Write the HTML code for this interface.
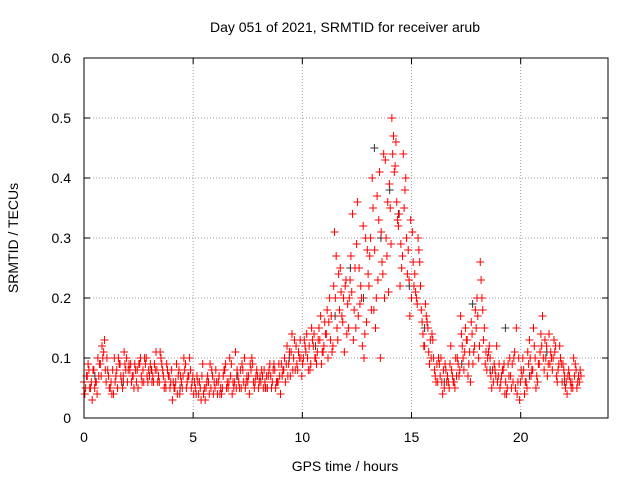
<!DOCTYPE html>
<html>
<head>
<meta charset="utf-8">
<style>
  html, body { margin: 0; padding: 0; background: #fff; }
  svg { display: block; font-family: "Liberation Sans", sans-serif; }
</style>
</head>
<body>
<svg id="chart" width="640" height="480" xmlns="http://www.w3.org/2000/svg">
  <rect x="0" y="0" width="640" height="480" fill="#fff"/>
  <text x="345" y="32" font-size="14" text-anchor="middle" fill="#000">Day 051 of 2021, SRMTID for receiver arub</text>
  <text x="345" y="471" font-size="14" text-anchor="middle" fill="#000">GPS time / hours</text>
  <text x="0" y="0" font-size="14" text-anchor="middle" fill="#000" transform="translate(18,238) rotate(-90)">SRMTID / TECUs</text>
  <g id="grid"></g>
  <g id="ticks"></g>
  <g id="marks"></g>
  <rect x="84" y="58" width="524" height="360" fill="none" stroke="#000" stroke-width="1"/>
</svg>
<script>
const xTickValues = [0, 5, 10, 15, 20];
const yTickValues = [0, 0.1, 0.2, 0.3, 0.4, 0.5, 0.6];
const yTickLabels = ["0", "0.1", "0.2", "0.3", "0.4", "0.5", "0.6"];
const sampleInterval = 0.15;
const seriesA = [
  .06,.07,.05,.08,.04,.09,.11,
  .1,.05,.04,.08,.09,.07,.1,
  .08,.07,.06,.09,.08,.1,.07,
  .07,.11,.06,.08,.05,.07,
  .03,.06,.08,.05,.09,.07,.06,
  .05,.04,.07,.03,.06,.08,.05,
  .06,.04,.08,.05,.09,.06,
  .07,.05,.1,.06,.08,.05,.07,
  .06,.08,.05,.07,.09,.06,.04,
  .08,.12,.07,.1,.09,.13,
  .1,.14,.08,.12,.09,.13,.11,
  .14,.2,.12,.27,.18,.16,.23,
  .2,.34,.15,.25,.12,.3,
  .22,.4,.15,.33,.26,.43,.21,
  .5,.42,.32,.25,.38,.28,.2,
  .24,.3,.18,.12,.15,.1,
  .08,.06,.1,.05,.07,.12,.06,
  .1,.17,.08,.13,.06,.11,.2,
  .26,.13,.08,.1,.06,.12,
  .05,.08,.04,.1,.06,.15,.03,
  .1,.06,.13,.08,.05,.09,.17,
  .1,.14,.08,.12,.09,.06,
  .05,.08,.06,.09,.07
];
const seriesB = [
  .05,.08,.03,.06,.07,.12,.08,
  .07,.04,.06,.1,.06,.09,.08,
  .06,.09,.05,.07,.1,.06,.08,
  .09,.06,.1,.05,.08,.06,
  .05,.04,.07,.1,.06,.08,.04,
  .07,.05,.04,.06,.09,.04,.06,
  .04,.07,.05,.1,.06,.05,
  .05,.08,.06,.04,.09,.07,.06,
  .07,.05,.08,.06,.05,.09,.07,
  .06,.09,.14,.08,.11,.07,
  .12,.08,.15,.1,.13,.09,.16,
  .1,.17,.31,.13,.21,.11,.19,
  .27,.18,.36,.22,.1,.28,
  .3,.18,.37,.1,.44,.27,.35,
  .47,.36,.22,.44,.3,.17,.26,
  .2,.26,.14,.17,.09,.13,
  .06,.09,.04,.08,.05,.07,.1,
  .07,.12,.15,.09,.14,.18,.1,
  .2,.09,.11,.05,.08,.07,
  .07,.04,.09,.05,.11,.06,.08,
  .04,.11,.07,.12,.06,.14,.08,
  .07,.11,.13,.06,.1,.08,
  .04,.06,.1,.05,.08
];
const seriesC = [
  .04,.09,.06,.05,.1,.07,.13,
  .08,.06,.1,.05,.07,.11,.06,
  .09,.05,.08,.1,.06,.07,.09,
  .06,.08,.11,.07,.09,.05,
  .06,.09,.04,.07,.05,.1,.07,
  .04,.06,.09,.05,.04,.07,.08,
  .07,.05,.09,.06,.04,.11,
  .06,.09,.05,.07,.1,.06,.05,
  .08,.06,.07,.05,.08,.06,.09,
  .1,.07,.11,.13,.08,.1,
  .13,.1,.09,.14,.11,.17,.12,
  .18,.13,.22,.15,.25,.2,.14,
  .23,.13,.29,.19,.32,.16,
  .27,.35,.2,.41,.24,.3,.39,
  .44,.46,.34,.27,.4,.23,.31,
  .21,.28,.16,.19,.11,.14,
  .07,.1,.06,.09,.06,.08,.05,
  .09,.14,.11,.07,.16,.12,.17,
  .23,.15,.1,.07,.09,.06,
  .06,.09,.05,.07,.1,.04,.06,
  .08,.05,.1,.15,.07,.11,.1,
  .12,.09,.1,.07,.12,.09,
  .06,.07,.05,.08,.06
];
const seriesD = [
  .07,.05,.08,.06,.09,.1,.06,
  .05,.08,.07,.09,.05,.08,.09,
  .07,.08,.09,.06,.09,.08,.06,
  .08,.07,.09,.06,.07,.08,
  .05,.07,.06,.08,.07,.05,.06,
  .06,.03,.05,.07,.05,.06,.04,
  .05,.08,.06,.07,.05,.08,
  .08,.06,.07,.09,.06,.08,.07,
  .05,.07,.09,.08,.06,.07,.08,
  .09,.11,.08,.12,.1,.09,
  .11,.12,.13,.1,.15,.11,.14,
  .16,.11,.2,.24,.17,.22,.15,
  .21,.25,.17,.2,.14,.24,
  .18,.28,.23,.31,.2,.36,.29,
  .41,.33,.29,.35,.24,.33,.22,
  .19,.22,.12,.16,.13,.1,
  .09,.07,.08,.06,.09,.06,.07,
  .08,.1,.13,.11,.09,.15,.12,
  .18,.11,.12,.08,.07,.09,
  .08,.06,.07,.09,.05,.1,.07,
  .06,.09,.08,.1,.09,.12,.13,
  .09,.1,.11,.08,.09,.07,
  .07,.05,.07,.06,.07
];
const blackTimes = [0.5,1.8,3.1,4.4,5.7,7.0,8.3,9.4,10.6,11.5,12.2,12.8,13.3,13.6,14.0,14.4,14.9,15.6,16.5,17.3,17.8,18.6,19.3,20.4,21.2,22.0];
const blackValues = [0.07,0.06,0.08,0.05,0.06,0.07,0.05,0.1,0.12,0.17,0.25,0.2,0.45,0.3,0.38,0.34,0.22,0.15,0.06,0.09,0.19,0.08,0.15,0.07,0.11,0.06];

const X0 = 84, X1 = 608, Y0 = 418, Y1 = 58;
const XMAX = 24, YMAX = 0.6;
function xScale(v) { return X0 + v / XMAX * (X1 - X0); }
function yScale(v) { return Y0 - v / YMAX * (Y0 - Y1); }
const NS = "http://www.w3.org/2000/svg";
const grid = document.getElementById("grid");
const ticks = document.getElementById("ticks");
const marks = document.getElementById("marks");

xTickValues.forEach(function (v) {
  const x = xScale(v);
  if (v > 0) {
    const g = document.createElementNS(NS, "line");
    g.setAttribute("x1", x); g.setAttribute("x2", x);
    g.setAttribute("y1", Y1); g.setAttribute("y2", Y0);
    g.setAttribute("stroke", "#a0a0a0"); g.setAttribute("stroke-dasharray", "1,2");
    
    
    grid.appendChild(g);
  }
  [[Y0, Y0 - 6], [Y1, Y1 + 6]].forEach(function (p) {
    const t = document.createElementNS(NS, "line");
    t.setAttribute("x1", x); t.setAttribute("x2", x);
    t.setAttribute("y1", p[0]); t.setAttribute("y2", p[1]);
    t.setAttribute("stroke", "#000");
    
    
    ticks.appendChild(t);
  });
  const lab = document.createElementNS(NS, "text");
  lab.setAttribute("x", x); lab.setAttribute("y", Y0 + 24);
  lab.setAttribute("font-size", "14"); lab.setAttribute("text-anchor", "middle");
  lab.textContent = String(v);
  
  
  ticks.appendChild(lab);
});

yTickValues.forEach(function (v, i) {
  const y = yScale(v);
  if (v > 0 && v < YMAX) {
    const g = document.createElementNS(NS, "line");
    g.setAttribute("x1", X0); g.setAttribute("x2", X1);
    g.setAttribute("y1", y); g.setAttribute("y2", y);
    g.setAttribute("stroke", "#a0a0a0"); g.setAttribute("stroke-dasharray", "1,2");
    
    
    grid.appendChild(g);
  }
  [[X0, X0 + 6], [X1, X1 - 6]].forEach(function (p) {
    const t = document.createElementNS(NS, "line");
    t.setAttribute("x1", p[0]); t.setAttribute("x2", p[1]);
    t.setAttribute("y1", y); t.setAttribute("y2", y);
    t.setAttribute("stroke", "#000");
    
    
    ticks.appendChild(t);
  });
  const lab = document.createElementNS(NS, "text");
  lab.setAttribute("x", X0 - 13); lab.setAttribute("y", y + 5);
  lab.setAttribute("font-size", "14"); lab.setAttribute("text-anchor", "end");
  lab.textContent = yTickLabels[i];
  
  
  ticks.appendChild(lab);
});

function plus(t, v, color, name) {
  const x = xScale(t), y = yScale(v);
  const p = document.createElementNS(NS, "path");
  p.setAttribute("d", "M" + (x - 4) + " " + y + "H" + (x + 4) + "M" + x + " " + (y - 4) + "V" + (y + 4));
  p.setAttribute("stroke", color); p.setAttribute("stroke-width", "1");
  
  
  marks.appendChild(p);
}
blackValues.forEach(function (v, i) { plus(blackTimes[i], v, "#333", "black-point"); });
seriesA.forEach(function (v, i) { plus(i * sampleInterval, v, "#ff0000", "red-point"); });
seriesC.forEach(function (v, i) { plus(i * sampleInterval + sampleInterval * 0.25, v, "#ff0000", "red-point"); });
seriesB.forEach(function (v, i) { plus(i * sampleInterval + sampleInterval * 0.5, v, "#ff0000", "red-point"); });
seriesD.forEach(function (v, i) { plus(i * sampleInterval + sampleInterval * 0.75, v, "#ff0000", "red-point"); });
</script>
</body>
</html>
